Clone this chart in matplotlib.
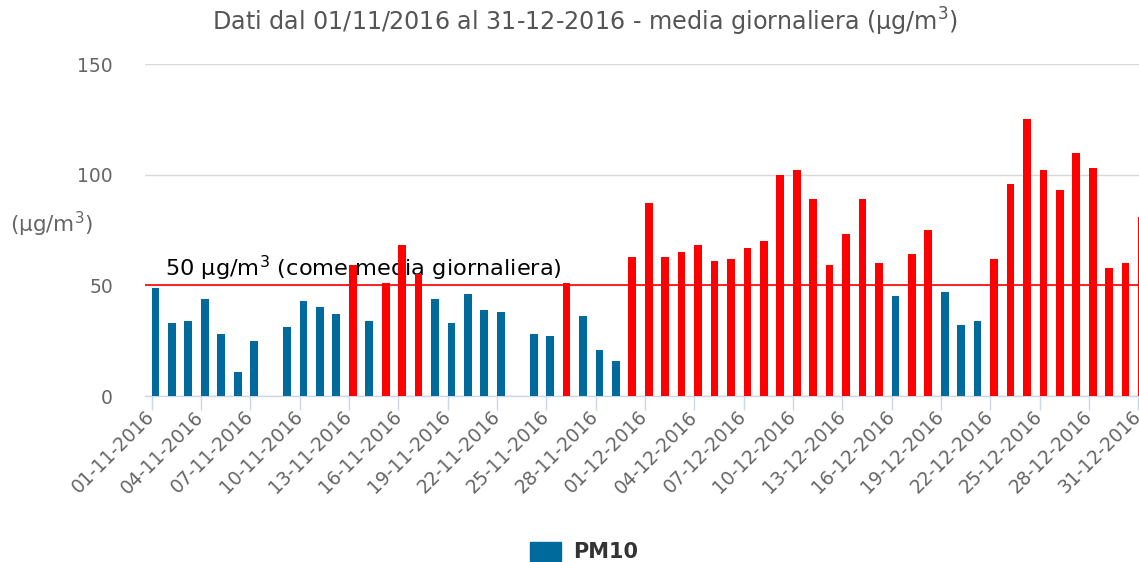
import matplotlib
matplotlib.use("Agg")
import matplotlib.pyplot as plt
from matplotlib.patches import Patch
import numpy as np

plt.rcParams['font.family'] = ['DejaVu Sans']

# ---- data ----
nov_values = [49, 33, 34, 44, 28, 11, 25, None, 31, 43,
              40, 37, 59, 34, 51, 68, 55, 44, 33, 46,
              39, 38, None, 28, 27, 51, 36, 21, 16, 63]
dec_values = [87, 63, 65, 68, 61, 62, 67, 70, 100, 102,
              89, 59, 73, 89, 60, 45, 64, 75, 47, 32,
              34, 62, 96, 125, 102, 93, 110, 103, 58, 60, 81]
dates = ([f"{d:02d}-11-2016" for d in range(1, 31)] +
         [f"{d:02d}-12-2016" for d in range(1, 32)])
values = nov_values + dec_values
limit = 50
series_name = "PM10"
title = "Dati dal 01/11/2016 al 31-12-2016 - media giornaliera (µg/m$^3$)"
limit_label = "50 µg/m$^3$ (come media giornaliera)"
y_title = "(µg/m$^3$)"

BLUE = "#006a9c"
RED = "#ff0000"
GRAY = "#666666"

W, H = 1139, 562
fig = plt.figure(figsize=(W / 100, H / 100), dpi=100)
ax = fig.add_axes([145 / W, 1 - 396 / H, 1 - 145 / W, (396 - 64) / H])

x = np.arange(1, len(values) + 1)
xs = [xi for xi, v in zip(x, values) if v is not None]
vs = [v for v in values if v is not None]
cols = [RED if v > limit else BLUE for v in vs]
ax.bar(xs, vs, width=0.47, align='edge', color=cols, zorder=3)

ax.axhline(limit, color=RED, lw=1.2, zorder=2.5)
ax.annotate(limit_label, xy=(0, limit), xycoords=ax.get_yaxis_transform(),
            xytext=(20, 2), textcoords='offset pixels', ha='left', va='bottom',
            fontsize=16.2, color='black', zorder=1)

ax.set_xlim(0.6, 61.05)
ax.set_ylim(0, 150)
ax.set_yticks([0, 50, 100, 150])
ax.yaxis.grid(True, color='#d8d8d8', lw=1)
ax.set_axisbelow(True)

for s in ['top', 'left', 'right']:
    ax.spines[s].set_visible(False)
ax.spines['bottom'].set_color('#ccd6eb')
ax.spines['bottom'].set_linewidth(1)

tick_pos = x[::3]
ax.set_xticks(tick_pos)
ax.set_xticklabels(dates[::3], rotation=45, ha='right', va='center',
                   rotation_mode='anchor')
ax.tick_params(axis='x', colors='#ccd6eb', length=10, width=1, pad=3,
               labelcolor=GRAY, labelsize=13.5)
ax.tick_params(axis='y', length=0, pad=23, labelcolor=GRAY, labelsize=13.5)

fig.text(212 / W, 1 - 22 / H, title, ha='left', va='center', fontsize=17.2,
         color='#555555')
fig.text(10 / W, 1 - 224 / H, y_title, ha='left', va='center', fontsize=15.5,
         color=GRAY)

fig.legend(handles=[Patch(color=BLUE, label=series_name)], loc='upper left',
           bbox_to_anchor=(530 / W, 1 - 542 / H), frameon=False,
           borderpad=0, borderaxespad=0, handlelength=1.5, handleheight=1.0,
           handletextpad=0.55, prop={'weight': 'bold', 'size': 15},
           labelcolor='#333333')

fig.savefig("out.png", dpi=100)
